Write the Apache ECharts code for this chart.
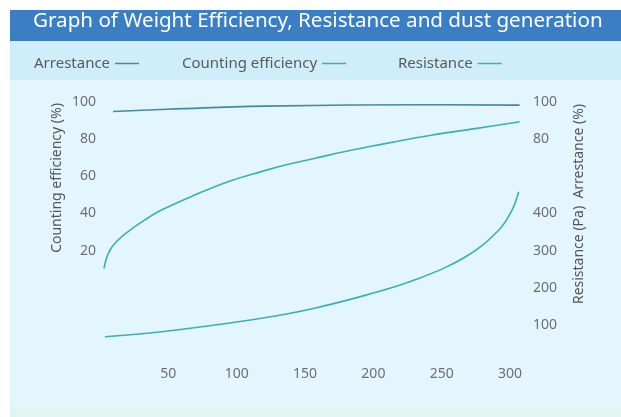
<!DOCTYPE html>
<html>
<head>
<meta charset="utf-8">
<script src="https://cdn.jsdelivr.net/npm/echarts@6/dist/echarts.min.js"></script>
<style>
html, body { margin: 0; padding: 0; background: #fff; }
#chart { width: 621px; height: 417px; }
</style>
</head>
<body>
<div id="chart"></div>
<script>
// values (x = dust load)
const arrestanceX = [9.5, 48.9, 121.8, 242.9, 307];
const arrestance = [94.9, 96.1, 97.8, 98.5, 98.3];

const countingX = [2.9, 6.1, 10.9, 20.6, 32.8, 45, 69.3, 93.6, 117.9, 137, 156.8, 175.8, 194.5, 218.8, 243.1, 275.7, 307];
const counting = [10.4, 18.5, 23.9, 30.2, 36.5, 41.8, 49.9, 57.1, 62.5, 66.3, 69.6, 72.8, 75.6, 79.0, 82.2, 85.8, 89.4];

const resistanceX = [3.6, 45, 93.6, 132.5, 156.8, 194.5, 231, 267.5, 291.8, 301.5, 306.3];
const resistance = [68.1, 81.6, 104.2, 126.5, 144.6, 180, 222, 283.5, 355.4, 409.8, 458.5];

const xTicks = [50, 100, 150, 200, 250, 300];
const leftTicks = [20, 40, 60, 80, 100];
const arrestTicks = [80, 100];
const resistTicks = [100, 200, 300, 400];

const pair = (xs, ys) => xs.map((x, i) => [x, ys[i]]);

const labelColor = '#6f6f6f';
const teal = '#3ab1ae';
const blueTeal = '#4788a3';

let myChart = echarts.init(document.getElementById('chart'));

const legendBase = {
    align: 'right',
    icon: 'rect',
    itemWidth: 24,
    itemHeight: 1.5,
    itemGap: 0,
    top: 51,
    textStyle: { color: '#5a5a5a', fontSize: 15, fontFamily: 'Noto Sans' }
};

const option = {
    animation: false,
    textStyle: { fontFamily: 'Noto Sans' },
    graphic: [
        { type: 'rect', z: -1, shape: { x: 10, y: 80, width: 611, height: 337 }, style: { fill: '#e3f5fd' } },
        { type: 'rect', z: -1, shape: { x: 10, y: 407, width: 611, height: 10 }, style: { fill: '#e2f6f3' } },
        { type: 'rect', z: -1, shape: { x: 10, y: 41, width: 611, height: 39 }, style: { fill: '#cfeefa' } },
        { type: 'rect', z: -1, shape: { x: 10, y: 10, width: 611, height: 31 }, style: { fill: '#3a7fc6' } },
        {
            type: 'text', left: 33, top: 11,
            style: { text: 'Graph of Weight Efficiency, Resistance and dust generation', fill: '#ffffff', fontSize: 20.6, fontFamily: 'Noto Sans' }
        },
        {
            type: 'text', x: 57, y: 178, rotation: Math.PI / 2,
            style: { text: 'Counting efficiency (%)', fill: '#555', fontSize: 14, fontFamily: 'Noto Sans', align: 'center', verticalAlign: 'middle' }
        },
        {
            type: 'text', x: 579, y: 204, rotation: Math.PI / 2,
            style: { text: 'Resistance (Pa)  Arrestance (%)', fill: '#555', fontSize: 14, fontFamily: 'Noto Sans', align: 'center', verticalAlign: 'middle' }
        }
    ],
    legend: [
        Object.assign({}, legendBase, { left: 29, data: ['Arrestance'] }),
        Object.assign({}, legendBase, { left: 177, data: ['Counting efficiency'] }),
        Object.assign({}, legendBase, { left: 393, data: ['Resistance'] })
    ],
    grid: { left: 100, right: 100, top: 102, bottom: 55 },
    xAxis: {
        type: 'value',
        min: 0,
        max: 308,
        interval: 50,
        axisLine: { show: false },
        axisTick: { show: false },
        splitLine: { show: false },
        axisLabel: {
            color: labelColor,
            fontSize: 14,
            margin: 5,
            showMaxLabel: false,
            formatter: v => xTicks.includes(v) ? String(v) : ''
        }
    },
    yAxis: [
        {
            type: 'value',
            position: 'left',
            min: -40,
            max: 100,
            interval: 20,
            axisLine: { show: false },
            axisTick: { show: false },
            splitLine: { show: false },
            axisLabel: {
                color: labelColor, fontSize: 14, margin: 4,
                formatter: v => leftTicks.includes(v) ? String(v) : ''
            }
        },
        {
            type: 'value',
            position: 'right',
            min: -40,
            max: 100,
            interval: 20,
            axisLine: { show: false },
            axisTick: { show: false },
            splitLine: { show: false },
            axisLabel: {
                color: labelColor, fontSize: 14, margin: 12,
                formatter: v => arrestTicks.includes(v) ? String(v) : ''
            }
        },
        {
            type: 'value',
            position: 'right',
            min: 0,
            max: 700,
            interval: 100,
            axisLine: { show: false },
            axisTick: { show: false },
            splitLine: { show: false },
            axisLabel: {
                color: labelColor, fontSize: 14, margin: 12,
                formatter: v => resistTicks.includes(v) ? String(v) : ''
            }
        }
    ],
    series: [
        {
            name: 'Arrestance',
            type: 'line',
            yAxisIndex: 1,
            smooth: 0.5,
            showSymbol: false,
            color: blueTeal,
            lineStyle: { color: blueTeal, width: 1.6 },
            data: pair(arrestanceX, arrestance)
        },
        {
            name: 'Counting efficiency',
            type: 'line',
            yAxisIndex: 0,
            smooth: 0.4,
            showSymbol: false,
            color: teal,
            lineStyle: { color: teal, width: 1.6 },
            data: pair(countingX, counting)
        },
        {
            name: 'Resistance',
            type: 'line',
            yAxisIndex: 2,
            smooth: 0.4,
            showSymbol: false,
            color: teal,
            lineStyle: { color: teal, width: 1.6 },
            data: pair(resistanceX, resistance)
        }
    ]
};
myChart.setOption(option);
</script>
</body>
</html>
